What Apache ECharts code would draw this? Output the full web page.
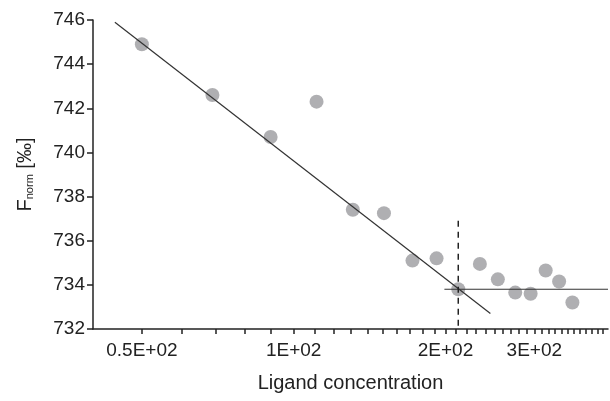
<!DOCTYPE html>
<html>
<head>
<meta charset="utf-8">
<script src="https://cdn.jsdelivr.net/npm/echarts@6/dist/echarts.min.js"></script>
<style>html,body{margin:0;padding:0;background:#fff}#c{width:610px;height:401px}</style>
</head>
<body>
<div id="c"></div>
<script>
// Ligand concentration (x) and F_norm (y) of each measurement
var concentrations = [50, 69, 90, 111, 131, 151, 172, 192, 212, 234, 254, 275, 295, 316, 336, 357];
var fnormValues = [744.9, 742.6, 740.7, 742.3, 737.4, 737.25, 735.1, 735.2, 733.8, 734.95, 734.25, 733.65, 733.6, 734.65, 734.15, 733.2];

// fitted lines
var fitLineX = [44.2, 245.5];
var fitLineY = [745.9, 732.7];
var plateauX = [199, 420];
var plateauY = [733.8, 733.8];
var breakX = [212, 212];
var breakY = [736.9, 732];

// axis ticks
var xLabelValues = [50, 100, 200, 300];
var xLabelTexts = ['0.5E+02', '1E+02', '2E+02', '3E+02'];
var xTickValues = [50, 60, 70, 80, 90, 100, 110, 120, 130, 140, 150, 160, 170, 180, 190, 200,
  210, 220, 230, 240, 250, 260, 270, 280, 290, 300, 310, 320, 330, 340, 350, 360, 370, 380, 390, 400, 410];
var yTicks = [732, 734, 736, 738, 740, 742, 744, 746];

function pairs(xs, ys) { return xs.map(function (x, i) { return [x, ys[i]]; }); }

var font = 'Liberation Sans, Arial, Helvetica, sans-serif';
var chart = echarts.init(document.getElementById('c'), null, { renderer: 'canvas' });
chart.setOption({
  animation: false,
  backgroundColor: '#fff',
  grid: { left: 93, top: 20, right: 2, bottom: 72, containLabel: false },
  xAxis: {
    type: 'log',
    logBase: 10,
    min: 40,
    max: 420,
    name: 'Ligand concentration',
    nameLocation: 'middle',
    nameGap: 44,
    nameTextStyle: { fontFamily: font, fontSize: 20, color: '#222', verticalAlign: 'top' },
    axisLine: { show: true, lineStyle: { color: '#222', width: 1.5 } },
    axisTick: { show: true, inside: false, length: 5, customValues: xTickValues, lineStyle: { color: '#222', width: 1.5 } },
    minorTick: { show: false },
    axisLabel: {
      show: true, margin: 12, customValues: xLabelValues,
      fontFamily: font, fontSize: 19, color: '#222',
      formatter: function (v) {
        var i = xLabelValues.findIndex(function (t) { return Math.abs(t - v) < 1e-6; });
        return i >= 0 ? xLabelTexts[i] : '';
      }
    },
    splitLine: { show: false }
  },
  yAxis: {
    type: 'value',
    min: 732,
    max: 746,
    interval: 2,
    name: '{f|F}{s|norm}{f| [‰]}',
    nameLocation: 'middle',
    nameGap: 58,
    nameRotate: 90,
    nameTextStyle: {
      fontFamily: font, color: '#222',
      rich: {
        f: { fontFamily: font, fontSize: 20, color: '#222' },
        s: { fontFamily: font, fontSize: 11, color: '#222', verticalAlign: 'bottom', padding: [8, 0, 0, 0] }
      }
    },
    axisLine: { show: true, lineStyle: { color: '#222', width: 1.5 } },
    axisTick: { show: true, inside: false, length: 6, lineStyle: { color: '#222', width: 1.5 } },
    axisLabel: { margin: 8, fontFamily: font, fontSize: 19, color: '#222',
      customValues: yTicks },
    splitLine: { show: false }
  },
  series: [
    {
      type: 'scatter',
      data: pairs(concentrations, fnormValues),
      symbol: 'circle',
      symbolSize: 14,
      itemStyle: { color: '#9b9b9f' },
      z: 2
    },
    {
      type: 'line',
      data: pairs(fitLineX, fitLineY),
      showSymbol: false,
      lineStyle: { color: '#333', width: 1.2 },
      z: 3
    },
    {
      type: 'line',
      data: pairs(plateauX, plateauY),
      showSymbol: false,
      lineStyle: { color: '#333', width: 1.2 },
      z: 3
    },
    {
      type: 'line',
      data: pairs(breakX, breakY),
      showSymbol: false,
      lineStyle: { color: '#222', width: 1.5, type: [6, 5] },
      z: 3
    }
  ]
});
</script>
</body>
</html>
